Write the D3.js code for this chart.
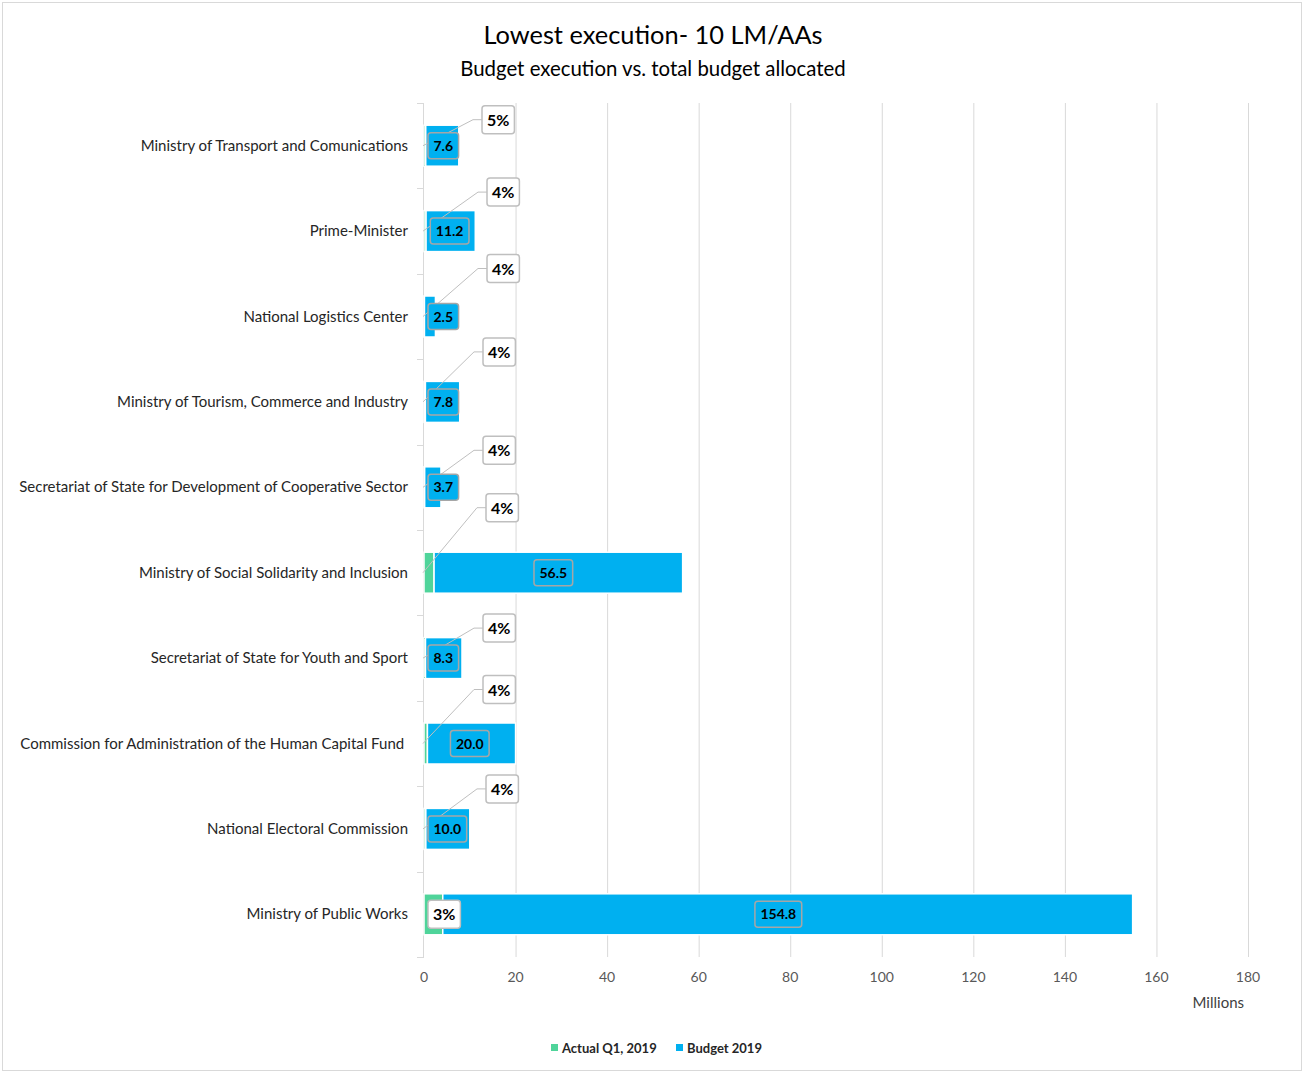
<!DOCTYPE html>
<html>
<head>
<meta charset="utf-8">
<script src="https://cdn.jsdelivr.net/npm/d3@7"></script>
<style>
  html, body { margin: 0; padding: 0; background: #fff; }
  svg { display: block; }
  text { font-family: Lato, "Noto Sans", sans-serif; }
</style>
</head>
<body>
<svg id="chart" width="1304" height="1073"></svg>
<script>
// Line ministries / autonomous agencies with the lowest Q1 execution
const categories = [
  "Ministry of Transport and Comunications",
  "Prime-Minister",
  "National Logistics Center",
  "Ministry of Tourism, Commerce and Industry",
  "Secretariat of State for Development of Cooperative Sector",
  "Ministry of Social Solidarity and Inclusion",
  "Secretariat of State for Youth and Sport",
  "Commission for Administration of the Human Capital Fund ",
  "National Electoral Commission",
  "Ministry of Public Works"
];
// Budget 2019 (millions)
const budget2019 = [7.6, 11.2, 2.5, 7.8, 3.7, 56.5, 8.3, 20.0, 10.0, 154.8];
// Actual Q1, 2019 (millions)
const actualQ1 = [0.38, 0.45, 0.1, 0.31, 0.15, 2.2, 0.33, 0.75, 0.4, 4.1];
// Value axis ticks
const xTicks = [0, 20, 40, 60, 80, 100, 120, 140, 160, 180];
const seriesNames = ["Actual Q1, 2019", "Budget 2019"];

// Callout placement for the execution-rate labels: [dx from axis, dy from bar centre]; null = inside the bar
const calloutOffsets = [
  [58, -26], [63, -39], [63, -48], [59, -50], [59, -37],
  [62, -65], [59, -30], [59, -54], [62, -40], null
];

const colors = { actual: "#4fd49a", budget: "#00b0f0" };
const svg = d3.select("#chart");

// chart frame
svg.append("rect")
  .attr("x", 2.5).attr("y", 2.5).attr("width", 1299).attr("height", 1068)
  .attr("fill", "#fff").attr("stroke", "#d9d9d9");

// titles
svg.append("text").attr("x", 653).attr("y", 44).attr("text-anchor", "middle")
  .attr("font-size", 25.4).attr("fill", "#000").text("Lowest execution- 10 LM/AAs");
svg.append("text").attr("x", 653).attr("y", 76).attr("text-anchor", "middle")
  .attr("font-size", 20.4).attr("fill", "#000").text("Budget execution vs. total budget allocated");

const x = d3.scaleLinear().domain([0, 180]).range([424, 1248]);
const y = d3.scaleBand().domain(categories).range([103, 957])
  .paddingInner(0.52).paddingOuter(0.26);
const step = y.step();

// vertical gridlines
svg.append("g").selectAll("line").data(xTicks.slice(1)).join("line")
  .attr("x1", d => x(d) + 0.5).attr("x2", d => x(d) + 0.5)
  .attr("y1", 103).attr("y2", 957)
  .attr("stroke", "#d9d9d9").attr("stroke-width", 1);

// value axis labels
svg.append("g").selectAll("text").data(xTicks).join("text")
  .attr("x", d => x(d)).attr("y", 982).attr("text-anchor", "middle")
  .attr("font-size", 14).attr("fill", "#595959").text(d => d);
svg.append("text").attr("x", 1244).attr("y", 1008).attr("text-anchor", "end")
  .attr("font-size", 15).attr("fill", "#404040").text("Millions");

// category axis line and ticks between bands
svg.append("line").attr("x1", x(0) - 0.5).attr("x2", x(0) - 0.5)
  .attr("y1", 103).attr("y2", 957).attr("stroke", "#d9d9d9");
const bounds = d3.range(categories.length + 1).map(i => 103 + i * step);
svg.append("g").selectAll("line").data(bounds).join("line")
  .attr("x1", x(0) - 7).attr("x2", x(0))
  .attr("y1", d => Math.round(d) + 0.5).attr("y2", d => Math.round(d) + 0.5)
  .attr("stroke", "#d9d9d9");

// category labels
svg.append("g").selectAll("text").data(categories).join("text")
  .attr("x", 408).attr("y", d => y(d) + y.bandwidth() / 2 + 5)
  .attr("text-anchor", "end").attr("font-size", 15).attr("fill", "#262626")
  .style("white-space", "pre").text(d => d);

const rows = categories.map((c, i) => ({
  cat: c, budget: budget2019[i], actual: actualQ1[i], off: calloutOffsets[i]
}));

// bars
svg.append("g").selectAll("rect.actual").data(rows).join("rect")
  .attr("class", "actual")
  .attr("x", x(0)).attr("y", d => y(d.cat))
  .attr("width", d => x(d.actual) - x(0)).attr("height", y.bandwidth())
  .attr("fill", colors.actual).attr("stroke", "#fff").attr("stroke-width", 1.5);
svg.append("g").selectAll("rect.budget").data(rows).join("rect")
  .attr("class", "budget")
  .attr("x", d => x(d.actual)).attr("y", d => y(d.cat))
  .attr("width", d => x(d.budget) - x(d.actual)).attr("height", y.bandwidth())
  .attr("fill", colors.budget).attr("stroke", "#fff").attr("stroke-width", 1.5);

const pct = d3.format(".0%");
const minLeft = x(0) + 4;

// leader lines for the execution-rate callouts
const leaders = svg.append("g");
rows.forEach(d => {
  if (!d.off) return;
  const cy = y(d.cat) + y.bandwidth() / 2;
  const bx = x(0) + d.off[0], by = cy + d.off[1];
  leaders.append("path")
    .attr("d", `M${x(0) - 1},${cy} L${bx - 9},${by} L${bx},${by}`)
    .attr("fill", "none").attr("stroke", "#bfbfbf").attr("stroke-width", 1);
});

// budget value labels (centred on the bar, kept clear of the axis)
const valG = svg.append("g");
rows.forEach(d => {
  const cy = y(d.cat) + y.bandwidth() / 2;
  const g = valG.append("g");
  const t = g.append("text").attr("text-anchor", "middle").attr("font-size", 14)
    .attr("font-weight", "bold").attr("fill", "#000").text(d.budget.toFixed(1));
  const w = t.node().getComputedTextLength() + 11;
  let cx = x(d.budget / 2);
  if (cx - w / 2 < minLeft) cx = minLeft + w / 2;
  t.attr("x", cx).attr("y", cy + 5);
  g.insert("rect", "text").attr("x", cx - w / 2).attr("y", cy - 13)
    .attr("width", w).attr("height", 26).attr("rx", 3)
    .attr("fill", colors.budget).attr("stroke", "#a6a6a6").attr("stroke-width", 1.5);
});

// execution-rate callouts
const pctG = svg.append("g");
rows.forEach(d => {
  const cy = y(d.cat) + y.bandwidth() / 2;
  const label = pct(d.actual / d.budget);
  const g = pctG.append("g");
  const t = g.append("text").attr("text-anchor", "middle").attr("font-size", 16)
    .attr("font-weight", "bold").attr("fill", "#000").text(label);
  const w = Math.max(31, t.node().getComputedTextLength() + 10);
  let left, mid;
  if (d.off) {
    left = x(0) + d.off[0]; mid = cy + d.off[1];
  } else {
    let cx = x(d.actual / 2);
    left = Math.max(minLeft, cx - w / 2); mid = cy;
  }
  t.attr("x", left + w / 2).attr("y", mid + 6);
  g.insert("rect", "text").attr("x", left).attr("y", mid - 14)
    .attr("width", w).attr("height", 28).attr("rx", 3)
    .attr("fill", "#fff").attr("stroke", "#bfbfbf").attr("stroke-width", 1.5);
});

// legend
const legend = svg.append("g");
const legendItems = [
  { name: seriesNames[0], color: colors.actual, x: 551 },
  { name: seriesNames[1], color: colors.budget, x: 676 }
];
legendItems.forEach(item => {
  legend.append("rect").attr("x", item.x).attr("y", 1044).attr("width", 7).attr("height", 7)
    .attr("fill", item.color);
  legend.append("text").attr("x", item.x + 11).attr("y", 1052.5)
    .attr("font-size", 13).attr("font-weight", "bold").attr("fill", "#262626").text(item.name);
});
</script>
</body>
</html>
